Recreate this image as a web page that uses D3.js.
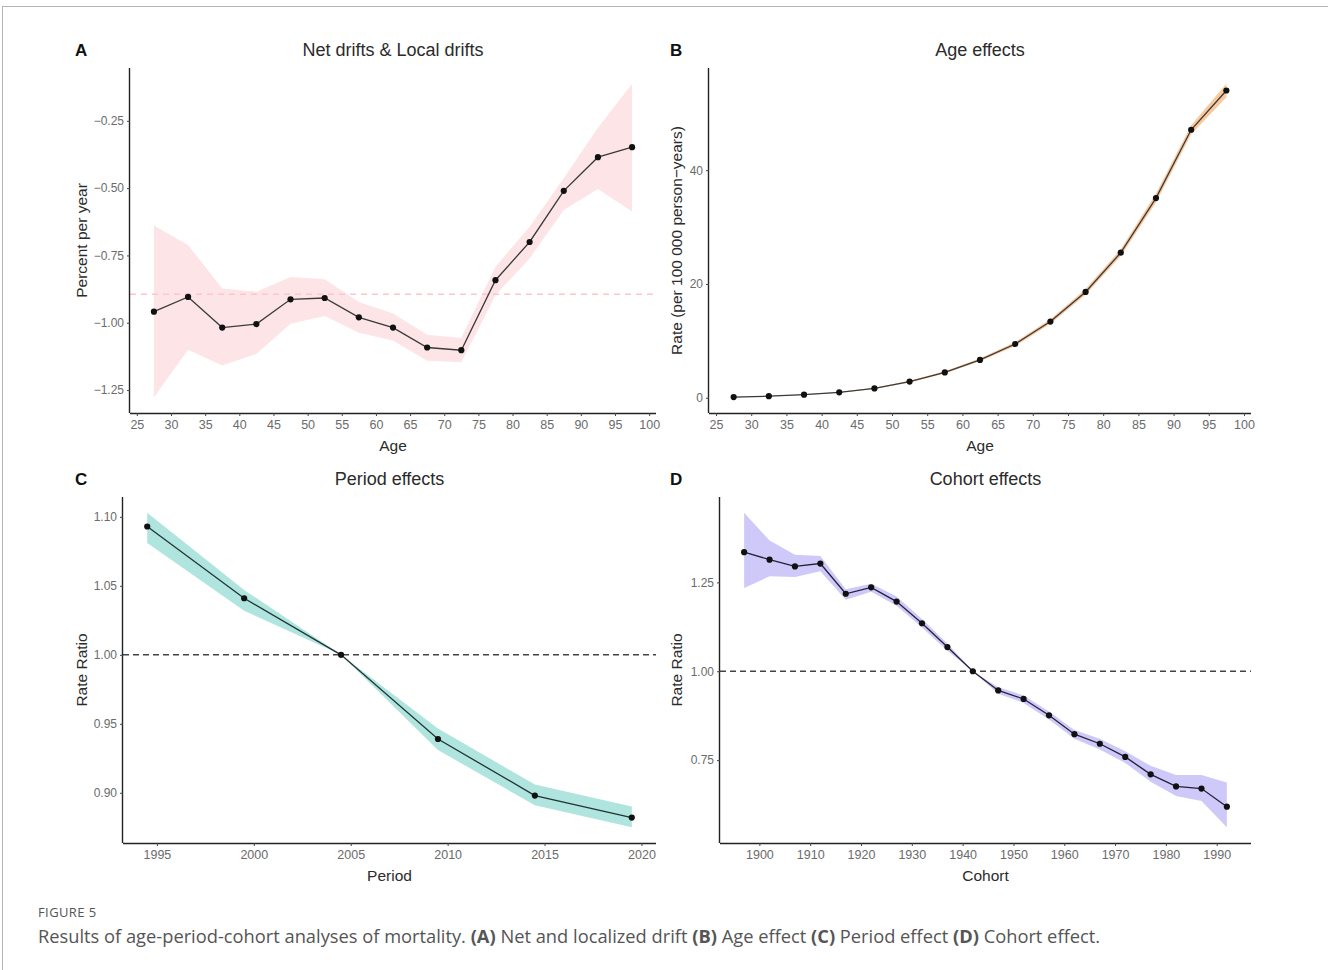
<!DOCTYPE html>
<html>
<head>
<meta charset="utf-8">
<script src="https://cdn.jsdelivr.net/npm/d3@7"></script>
<style>
  html, body { margin: 0; padding: 0; background: #fff; }
  svg { display: block; }
</style>
</head>
<body>
<svg id="chart" width="1328" height="970"></svg>
<script>
// ---------------- DATA ----------------
const ageGroups = [27.5, 32.5, 37.5, 42.5, 47.5, 52.5, 57.5, 62.5, 67.5, 72.5, 77.5, 82.5, 87.5, 92.5, 97.5];

// Panel A: local drifts (percent per year)
const localDrift      = [-0.959, -0.904, -1.018, -1.005, -0.913, -0.908, -0.980, -1.018, -1.092, -1.102, -0.842, -0.700, -0.510, -0.385, -0.348];
const localDriftLower = [-1.277, -1.100, -1.159, -1.116, -1.004, -0.975, -1.037, -1.066, -1.141, -1.147, -0.898, -0.761, -0.581, -0.503, -0.587];
const localDriftUpper = [-0.639, -0.711, -0.873, -0.885, -0.830, -0.838, -0.923, -0.966, -1.045, -1.057, -0.792, -0.643, -0.463, -0.276, -0.112];
const netDrift = -0.894;
const ageTicks = [25, 30, 35, 40, 45, 50, 55, 60, 65, 70, 75, 80, 85, 90, 95, 100];
const driftTicks = [-1.25, -1.00, -0.75, -0.50, -0.25];

// Panel B: age effects (rate per 100 000 person-years)
const ageRate      = [0.12, 0.28, 0.55, 0.95, 1.65, 2.85, 4.45, 6.65, 9.45, 13.4, 18.6, 25.5, 35.1, 47.1, 54.0];
const ageRateLower = [0.08, 0.24, 0.50, 0.88, 1.55, 2.70, 4.25, 6.40, 9.10, 13.0, 18.1, 24.9, 34.3, 46.3, 52.8];
const ageRateUpper = [0.16, 0.32, 0.60, 1.02, 1.75, 3.00, 4.65, 6.90, 9.80, 13.8, 19.1, 26.1, 35.9, 47.9, 55.2];
const rateTicks = [0, 20, 40];

// Panel C: period effects (rate ratio)
const periods          = [1994.5, 1999.5, 2004.5, 2009.5, 2014.5, 2019.5];
const periodRR         = [1.093, 1.041, 1.000, 0.939, 0.898, 0.882];
const periodRRLower    = [1.081, 1.032, 1.000, 0.931, 0.891, 0.875];
const periodRRUpper    = [1.103, 1.047, 1.000, 0.9466, 0.906, 0.890];
const periodTicks = [1995, 2000, 2005, 2010, 2015, 2020];
const periodRRTicks = [0.90, 0.95, 1.00, 1.05, 1.10];

// Panel D: cohort effects (rate ratio)
const cohorts       = [1897, 1902, 1907, 1912, 1917, 1922, 1927, 1932, 1937, 1942, 1947, 1952, 1957, 1962, 1967, 1972, 1977, 1982, 1987, 1992];
const cohortRR      = [1.335, 1.314, 1.295, 1.303, 1.218, 1.236, 1.196, 1.135, 1.068, 1.000, 0.946, 0.922, 0.876, 0.823, 0.796, 0.759, 0.710, 0.676, 0.670, 0.619];
const cohortRRLower = [1.234, 1.267, 1.265, 1.281, 1.201, 1.224, 1.184, 1.123, 1.058, 1.000, 0.937, 0.911, 0.864, 0.810, 0.780, 0.742, 0.689, 0.649, 0.635, 0.561];
const cohortRRUpper = [1.446, 1.368, 1.328, 1.324, 1.231, 1.246, 1.210, 1.147, 1.078, 1.000, 0.955, 0.932, 0.887, 0.835, 0.810, 0.775, 0.734, 0.708, 0.708, 0.687];
const cohortTicks = [1900, 1910, 1920, 1930, 1940, 1950, 1960, 1970, 1980, 1990];
const cohortRRTicks = [0.75, 1.00, 1.25];

// ---------------- HELPERS ----------------
const svg = d3.select("#chart");
const FONT = "'Liberation Sans', Arial, Helvetica, sans-serif";

// frame lines of the page crop
svg.append("line").attr("x1", 2).attr("x2", 1328).attr("y1", 6.5).attr("y2", 6.5).attr("stroke", "#b5b5b5").attr("stroke-width", 1);
svg.append("line").attr("x1", 2.5).attr("x2", 2.5).attr("y1", 6).attr("y2", 970).attr("stroke", "#b5b5b5").attr("stroke-width", 1);

function expand(lo, hi, f = 0.05) {
  const r = hi - lo;
  return [lo - r * f, hi + r * f];
}

function panel(cfg) {
  const { x0, x1, y0, y1, xs, lower, upper, mid, xDomain, xTicks, yTicks, yFmt,
          letter, title, xTitle, yTitle, bandColor, bandOpacity, refLine, refColor, refDash, lineColor } = cfg;
  const g = svg.append("g");
  const x = d3.scaleLinear().domain(xDomain).range([x0, x1]);
  const yDom = expand(d3.min(lower.concat(refLine !== undefined ? [refLine] : [])), d3.max(upper.concat(refLine !== undefined ? [refLine] : [])));
  const y = d3.scaleLinear().domain(yDom).range([y1, y0]);

  const rows = xs.map((v, i) => ({ x: v, lo: lower[i], hi: upper[i], m: mid[i] }));

  // band
  g.append("path")
    .datum(rows)
    .attr("d", d3.area().x(d => x(d.x)).y0(d => y(d.lo)).y1(d => y(d.hi)))
    .attr("fill", bandColor)
    .attr("fill-opacity", bandOpacity);

  // reference line
  if (refLine !== undefined) {
    g.append("line")
      .attr("x1", x0).attr("x2", x1)
      .attr("y1", y(refLine)).attr("y2", y(refLine))
      .attr("stroke", refColor).attr("stroke-width", 1.6)
      .attr("stroke-dasharray", refDash);
  }

  // line
  g.append("path")
    .datum(rows)
    .attr("d", d3.line().x(d => x(d.x)).y(d => y(d.m)))
    .attr("fill", "none")
    .attr("stroke", lineColor)
    .attr("stroke-width", 1.3);

  // points
  g.selectAll("circle.pt").data(rows).join("circle")
    .attr("class", "pt")
    .attr("cx", d => x(d.x)).attr("cy", d => y(d.m))
    .attr("r", 3.1).attr("fill", "#111");

  // axes
  const xAxis = d3.axisBottom(x).tickValues(xTicks).tickSize(3).tickPadding(4).tickFormat(d3.format("d"));
  const gx = g.append("g").attr("transform", `translate(0,${y1})`).call(xAxis);
  gx.select(".domain").attr("d", `M${x0},0.5H${x1}`).attr("stroke", "#222").attr("stroke-width", 1.4);
  gx.selectAll(".tick line").attr("stroke", "#444");
  gx.selectAll(".tick text").attr("fill", "#6b6b6b").style("font-family", FONT).style("font-size", "12.5px");

  const yAxis = d3.axisLeft(y).tickValues(yTicks).tickSize(3).tickPadding(3).tickFormat(yFmt);
  const gy = g.append("g").attr("transform", `translate(${x0},0)`).call(yAxis);
  gy.select(".domain").attr("d", `M-0.5,${y0}V${y1}`).attr("stroke", "#222").attr("stroke-width", 1.4);
  gy.selectAll(".tick line").attr("stroke", "#444");
  gy.selectAll(".tick text").attr("fill", "#6b6b6b").style("font-family", FONT).style("font-size", "12px");

  const cx = (x0 + x1) / 2;
  // titles
  g.append("text").attr("x", cx).attr("y", y0 - 12).attr("text-anchor", "middle")
    .style("font-family", FONT).style("font-size", "18px").attr("fill", "#2b2b2b").text(title);
  g.append("text").attr("x", cfg.letterX).attr("y", y0 - 12)
    .style("font-family", FONT).style("font-size", "17px").style("font-weight", "bold").attr("fill", "#111").text(letter);
  g.append("text").attr("x", cx).attr("y", y1 + 38).attr("text-anchor", "middle")
    .style("font-family", FONT).style("font-size", "15.5px").attr("fill", "#2b2b2b").text(xTitle);
  g.append("text")
    .attr("transform", `translate(${cfg.yTitleX},${(y0 + y1) / 2}) rotate(-90)`)
    .attr("text-anchor", "middle")
    .style("font-family", FONT).style("font-size", "15.5px").attr("fill", "#2b2b2b").text(yTitle);
}

const fmt2 = d3.format(".2f");

panel({
  x0: 130, x1: 656, y0: 68, y1: 413,
  xs: ageGroups, lower: localDriftLower, upper: localDriftUpper, mid: localDrift,
  xDomain: expand(d3.min(ageGroups), d3.max(ageGroups)), xTicks: ageTicks,
  yTicks: driftTicks, yFmt: d => d3.format(".2f")(d).replace("-", "\u2212"),
  letter: "A", letterX: 75, title: "Net drifts & Local drifts", xTitle: "Age", yTitle: "Percent per year", yTitleX: 87,
  bandColor: "#fcd5da", bandOpacity: 0.65, refLine: netDrift, refColor: "#ffc4cc", refDash: "6,5", lineColor: "#3a3a3a"
});

panel({
  x0: 709, x1: 1251, y0: 68, y1: 413,
  xs: ageGroups, lower: ageRateLower, upper: ageRateUpper, mid: ageRate,
  xDomain: expand(d3.min(ageGroups), d3.max(ageGroups)), xTicks: ageTicks,
  yTicks: rateTicks, yFmt: d3.format("d"),
  letter: "B", letterX: 670, title: "Age effects", xTitle: "Age", yTitle: "Rate (per 100 000 person\u2212years)", yTitleX: 682,
  bandColor: "#f5a35c", bandOpacity: 0.6, lineColor: "#3a3a3a"
});

panel({
  x0: 123, x1: 656, y0: 497, y1: 843,
  xs: periods, lower: periodRRLower, upper: periodRRUpper, mid: periodRR,
  xDomain: expand(d3.min(periods), d3.max(periods)), xTicks: periodTicks,
  yTicks: periodRRTicks, yFmt: fmt2,
  letter: "C", letterX: 75, title: "Period effects", xTitle: "Period", yTitle: "Rate Ratio", yTitleX: 87,
  bandColor: "#8fd8d0", bandOpacity: 0.7, refLine: 1.0, refColor: "#444", refDash: "6,4", lineColor: "#1f3534"
});

panel({
  x0: 720, x1: 1251, y0: 497, y1: 843,
  xs: cohorts, lower: cohortRRLower, upper: cohortRRUpper, mid: cohortRR,
  xDomain: expand(d3.min(cohorts), d3.max(cohorts)), xTicks: cohortTicks,
  yTicks: cohortRRTicks, yFmt: fmt2,
  letter: "D", letterX: 670, title: "Cohort effects", xTitle: "Cohort", yTitle: "Rate Ratio", yTitleX: 682,
  bandColor: "#b9b2f5", bandOpacity: 0.7, refLine: 1.0, refColor: "#444", refDash: "6,4", lineColor: "#22213a"
});

// caption
const CAP = "'Open Sans', 'Noto Sans', sans-serif";
svg.append("text").attr("x", 38).attr("y", 917)
  .style("font-family", CAP).style("font-size", "13px").style("letter-spacing", "0.4px").attr("fill", "#555").text("FIGURE 5");

const cap = svg.append("text").attr("x", 38).attr("y", 943)
  .style("font-family", CAP).style("font-size", "18.3px").attr("fill", "#555");
const capParts = [
  ["Results of age-period-cohort analyses of mortality. ", false],
  ["(A)", true], [" Net and localized drift ", false],
  ["(B)", true], [" Age effect ", false],
  ["(C)", true], [" Period effect ", false],
  ["(D)", true], [" Cohort effect.", false]
];
capParts.forEach(([t, b]) => {
  cap.append("tspan").style("font-weight", b ? "bold" : "normal").text(t);
});
</script>
</body>
</html>
